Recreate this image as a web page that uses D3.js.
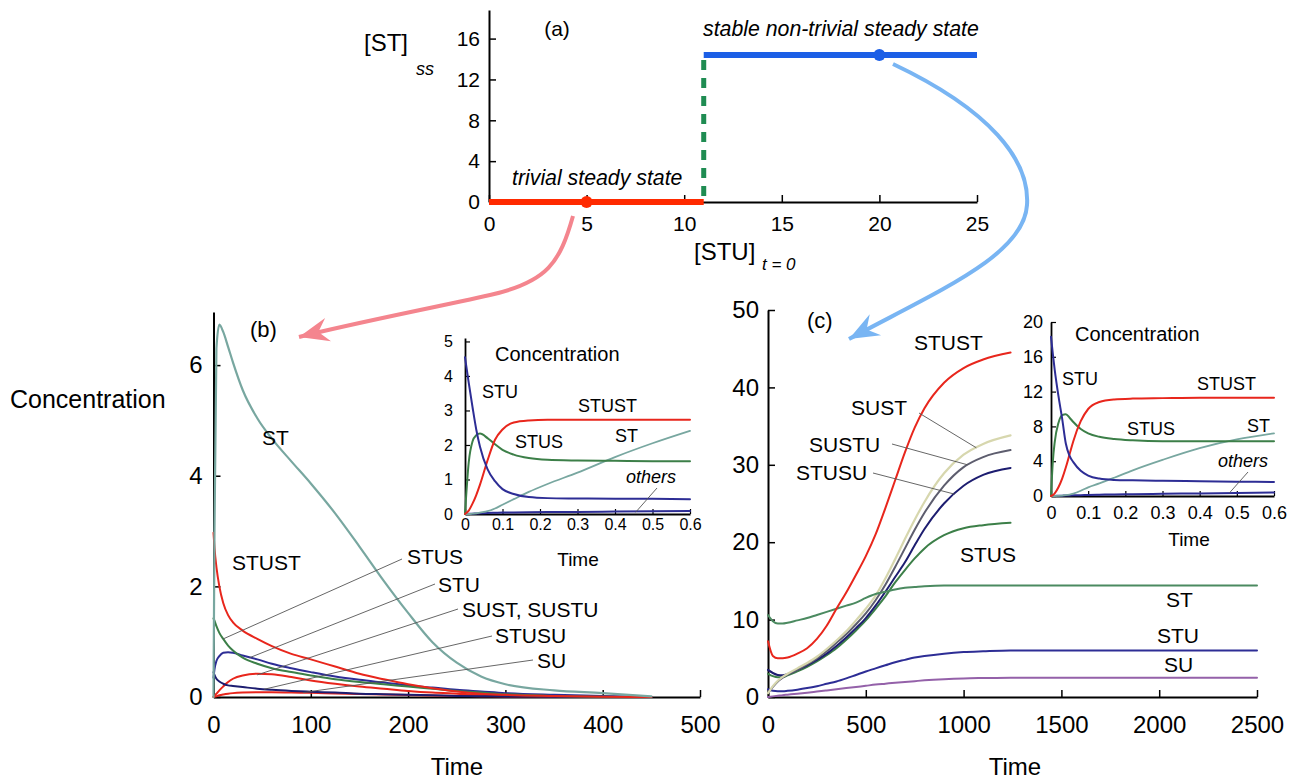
<!DOCTYPE html>
<html><head><meta charset="utf-8">
<script src="https://cdn.jsdelivr.net/npm/d3@7"></script>
<style>
body{margin:0;background:#fff;}
svg{font-family:"Liberation Sans",Arial,Helvetica,sans-serif;}
</style></head><body>
<script>
// ================= DATA =================
// Panel (a): steady-state [ST] versus initial [STU]
const aXTicks = [0, 5, 10, 15, 20, 25];
const aYTicks = [0, 4, 8, 12, 16];
const aThreshold = 11;
const aTrivialX = [0, 11];
const aTrivialY = [0, 0];
const aStableX = [11, 25];
const aStableY = [14.4, 14.4];
const aMarkX = [5, 20];
const aMarkY = [0, 14.4];

// Panel (b): [STU]t=0 = 5
const bXTicks = [0, 100, 200, 300, 400, 500];
const bYTicks = [0, 2, 4, 6];
const bTime   = [0, 1, 3, 6, 10, 15, 20, 30, 45, 60, 80, 100, 125, 150, 175, 200, 225, 250, 275, 300, 350, 400, 450];
const bST     = [0, 3.0, 6.3, 6.73, 6.6, 6.33, 6.05, 5.55, 5.04, 4.67, 4.26, 3.86, 3.32, 2.72, 2.1, 1.52, 0.99, 0.62, 0.37, 0.23, 0.12, 0.07, 0.01];
const bSTUST  = [2.97, 2.7, 2.35, 2.0, 1.7, 1.48, 1.35, 1.2, 1.05, 0.92, 0.78, 0.68, 0.55, 0.42, 0.32, 0.23, 0.16, 0.1, 0.06, 0.04, 0.02, 0.005, 0];
const bSTUS   = [1.42, 1.38, 1.28, 1.16, 1.05, 0.93, 0.84, 0.71, 0.6, 0.52, 0.45, 0.39, 0.32, 0.27, 0.23, 0.19, 0.15, 0.11, 0.08, 0.05, 0.02, 0.005, 0];
const bSTU    = [0.35, 0.5, 0.65, 0.74, 0.8, 0.81, 0.8, 0.75, 0.68, 0.6, 0.52, 0.45, 0.37, 0.31, 0.26, 0.21, 0.17, 0.13, 0.1, 0.07, 0.04, 0.02, 0];
const bSTUSU  = [0.45, 0.4, 0.33, 0.28, 0.24, 0.21, 0.2, 0.18, 0.15, 0.13, 0.11, 0.095, 0.08, 0.06, 0.05, 0.04, 0.03, 0.02, 0.015, 0.01, 0.005, 0, 0];
const bSUST   = [0, 0.02, 0.06, 0.12, 0.19, 0.27, 0.33, 0.39, 0.42, 0.41, 0.36, 0.3, 0.24, 0.19, 0.15, 0.11, 0.08, 0.06, 0.04, 0.03, 0.01, 0, 0];
const bSU     = [0, 0.005, 0.015, 0.03, 0.045, 0.06, 0.07, 0.08, 0.085, 0.085, 0.08, 0.075, 0.065, 0.055, 0.045, 0.035, 0.025, 0.02, 0.015, 0.01, 0.005, 0, 0];

// Inset of (b)
const bInXTicks = [0, 0.1, 0.2, 0.3, 0.4, 0.5, 0.6];
const bInYTicks = [0, 1, 2, 3, 4, 5];
const bInTime   = [0, 0.01, 0.02, 0.03, 0.04, 0.06, 0.08, 0.1, 0.13, 0.17, 0.22, 0.3, 0.4, 0.5, 0.6];
const bInSTU    = [4.54, 3.8, 3.1, 2.45, 1.95, 1.3, 0.95, 0.72, 0.58, 0.49, 0.46, 0.45, 0.44, 0.44, 0.43];
const bInSTUST  = [0, 0.1, 0.3, 0.55, 0.85, 1.55, 2.15, 2.45, 2.65, 2.71, 2.73, 2.73, 2.73, 2.73, 2.73];
const bInSTUS   = [0, 1.5, 2.1, 2.28, 2.33, 2.2, 2.02, 1.86, 1.72, 1.62, 1.57, 1.55, 1.54, 1.53, 1.53];
const bInST     = [0, 0, 0.01, 0.02, 0.04, 0.08, 0.16, 0.27, 0.43, 0.64, 0.87, 1.2, 1.65, 2.05, 2.41];
const bInOthers = [0, 0.005, 0.01, 0.015, 0.02, 0.03, 0.035, 0.04, 0.045, 0.05, 0.055, 0.06, 0.07, 0.08, 0.09];

// Panel (c): [STU]t=0 = 20
const cXTicks = [0, 500, 1000, 1500, 2000, 2500];
const cYTicks = [0, 10, 20, 30, 40, 50];
const cTime   = [0, 25, 50, 75, 100, 150, 200, 250, 300, 350, 400, 450, 500, 550, 600, 650, 700, 750, 800, 900, 1000, 1100, 1240, 1400, 1600, 1800, 2000, 2200, 2500];
const cSTUST  = [7.2, 5.3, 5.0, 5.0, 5.1, 5.6, 6.3, 7.5, 9.2, 11.4, 13.5, 15.8, 18.2, 21.0, 24.4, 28.0, 31.6, 34.8, 37.3, 40.6, 42.5, 43.6, 44.5];
const cSUST   = [0.5, 1.4, 2.1, 2.6, 3.0, 3.7, 4.4, 5.2, 6.2, 7.3, 8.5, 9.9, 11.4, 13.1, 15.3, 17.8, 20.4, 22.9, 25.2, 28.9, 31.3, 32.7, 33.8];
const cSUSTU  = [0.5, 1.3, 2.0, 2.5, 2.9, 3.5, 4.2, 5.0, 5.9, 7.0, 8.1, 9.4, 10.8, 12.5, 14.5, 16.8, 19.2, 21.6, 23.8, 27.3, 29.7, 31.0, 31.9];
const cSTUSU  = [3.5, 3.1, 2.85, 2.8, 2.95, 3.5, 4.1, 4.8, 5.6, 6.6, 7.7, 8.9, 10.2, 11.8, 13.6, 15.5, 17.4, 19.6, 21.7, 25.0, 27.3, 28.7, 29.6];
const cSTUS   = [3.0, 2.7, 2.55, 2.55, 2.8, 3.3, 3.9, 4.6, 5.4, 6.3, 7.4, 8.6, 9.9, 11.4, 13.0, 14.8, 16.4, 17.9, 19.2, 20.9, 21.8, 22.2, 22.5];
const cST     = [10.6, 9.8, 9.5, 9.5, 9.6, 9.9, 10.2, 10.6, 11.0, 11.4, 11.8, 12.2, 12.8, 13.3, 13.6, 13.9, 14.1, 14.2, 14.3, 14.4, 14.4, 14.4, 14.4, 14.4, 14.4, 14.4, 14.4, 14.4, 14.4];
const cSTU    = [1.0, 0.8, 0.75, 0.75, 0.8, 0.95, 1.15, 1.4, 1.7, 2.0, 2.4, 2.85, 3.3, 3.7, 4.1, 4.5, 4.8, 5.1, 5.3, 5.6, 5.8, 5.9, 6.0, 6.0, 6.0, 6.0, 6.0, 6.0, 6.0];
const cSU     = [0, 0.08, 0.16, 0.24, 0.3, 0.42, 0.55, 0.7, 0.85, 1.0, 1.15, 1.3, 1.45, 1.6, 1.72, 1.84, 1.95, 2.05, 2.15, 2.3, 2.4, 2.45, 2.5, 2.5, 2.5, 2.5, 2.5, 2.5, 2.5];

// Inset of (c)
const cInXTicks = [0, 0.1, 0.2, 0.3, 0.4, 0.5, 0.6];
const cInYTicks = [0, 4, 8, 12, 16, 20];
const cInTime   = [0, 0.005, 0.01, 0.02, 0.03, 0.04, 0.05, 0.06, 0.08, 0.1, 0.13, 0.17, 0.22, 0.3, 0.4, 0.5, 0.6];
const cInSTU    = [18.3, 16.3, 14.5, 11.5, 8.9, 6.0, 4.6, 3.9, 2.9, 2.35, 2.0, 1.85, 1.8, 1.75, 1.7, 1.65, 1.6];
const cInSTUST  = [0, 0.1, 0.3, 1.0, 2.0, 3.3, 4.8, 6.3, 8.6, 10.0, 10.8, 11.1, 11.2, 11.25, 11.3, 11.3, 11.3];
const cInSTUS   = [0, 4.0, 6.2, 8.4, 9.3, 9.4, 9.0, 8.5, 7.7, 7.2, 6.8, 6.55, 6.4, 6.3, 6.3, 6.3, 6.3];
const cInST     = [0, 0, 0, 0.02, 0.05, 0.1, 0.17, 0.28, 0.6, 1.0, 1.45, 2.1, 2.95, 4.15, 5.5, 6.5, 7.2];
const cInOthers = [0, 0, 0.01, 0.02, 0.04, 0.06, 0.07, 0.08, 0.1, 0.12, 0.15, 0.18, 0.21, 0.25, 0.3, 0.35, 0.4];

// ================= STYLE =================
const FONT = '"Liberation Sans", Arial, Helvetica, sans-serif';
const COL = {
  red: '#e8261c', green: '#3c7f48', teal: '#78a7a0', navy: '#2d2d95', navyDark: '#1d1d70',
  khaki: '#d7d7ae', gray: '#5d5d6e', purple: '#9461a9', stGreen: '#4b8a60',
  aRed: '#ff2a00', aBlue: '#1c5fe6', aGreen: '#1f8c52', pink: '#f4858e', lightBlue: '#79b5f3'
};

const svg = d3.select('body').append('svg').attr('width', 1302).attr('height', 780)
  .style('font-family', FONT);
svg.append('rect').attr('width', 1302).attr('height', 780).attr('fill', '#fff');
const defs = svg.append('defs');

function marker(id, color) {
  defs.append('marker').attr('id', id).attr('viewBox', '-32 -14 34 28')
    .attr('refX', 0).attr('refY', 0).attr('markerWidth', 34).attr('markerHeight', 28)
    .attr('markerUnits', 'userSpaceOnUse').attr('orient', 'auto')
    .append('path').attr('d', 'M0,0 L-30,-12 L-20,0 L-30,12 Z').attr('fill', color);
}
marker('ahPink', COL.pink);
marker('ahBlue', COL.lightBlue);

function drawAxes(g, x, y, o) {
  const xa = d3.axisBottom(x).tickValues(o.xTicks).tickFormat(d3.format('~g'))
    .tickSizeInner(-o.tick).tickSizeOuter(0).tickPadding(o.xPad);
  const ya = d3.axisLeft(y).tickValues(o.yTicks).tickFormat(d3.format('~g'))
    .tickSizeInner(-o.tick).tickSizeOuter(0).tickPadding(o.yPad);
  const gx = g.append('g').attr('transform', `translate(0,${y.range()[0]})`).call(xa);
  const gy = g.append('g').attr('transform', `translate(${x.range()[0]},0)`).call(ya);
  [gx, gy].forEach(a => {
    a.attr('font-family', null).attr('font-size', null);
    a.select('.domain').attr('stroke', '#000').attr('stroke-width', o.lw);
    a.selectAll('.tick line').attr('stroke', '#000').attr('stroke-width', o.tw);
    a.selectAll('.tick text').attr('fill', '#000')
      .style('font-size', o.fs + 'px').style('font-family', FONT);
  });
}

function series(g, x, y, times, vals, color, w) {
  const pts = vals.map((v, i) => [times[i], v]);
  g.append('path').datum(pts).attr('fill', 'none').attr('stroke', color)
    .attr('stroke-width', w).attr('stroke-linejoin', 'round').attr('stroke-linecap', 'round')
    .attr('d', d3.line().x(d => x(d[0])).y(d => y(d[1])).curve(d3.curveMonotoneX));
}

function text(g, x, y, s, fs, o = {}) {
  return g.append('text').attr('x', x).attr('y', y).text(s)
    .attr('font-size', fs).attr('fill', o.fill || '#000')
    .attr('font-style', o.italic ? 'italic' : null)
    .attr('text-anchor', o.anchor || 'start');
}

function leader(g, x1, y1, x2, y2) {
  g.append('line').attr('x1', x1).attr('y1', y1).attr('x2', x2).attr('y2', y2)
    .attr('stroke', '#555').attr('stroke-width', 0.9);
}

// ================= PANEL (a) =================
const gA = svg.append('g');
const xA = d3.scaleLinear().domain([0, 25]).range([489, 977]);
const yA = d3.scaleLinear().domain([0, 18.8]).range([202, 10]);
drawAxes(gA, xA, yA, { xTicks: aXTicks, yTicks: aYTicks, tick: 7, xPad: 14, yPad: 9, lw: 2, tw: 1.5, fs: 21 });
const lineA = d3.line().x((d) => xA(d[0])).y(d => yA(d[1]));
gA.append('path').datum(aTrivialX.map((v, i) => [v, aTrivialY[i]]))
  .attr('d', lineA).attr('stroke', COL.aRed).attr('stroke-width', 6).attr('fill', 'none');
gA.append('line').attr('x1', xA(aThreshold)).attr('x2', xA(aThreshold))
  .attr('y1', yA(0) - 6).attr('y2', yA(aStableY[0]))
  .attr('stroke', COL.aGreen).attr('stroke-width', 5).attr('stroke-dasharray', '10,8');
gA.append('path').datum(aStableX.map((v, i) => [v, aStableY[i]]))
  .attr('d', lineA).attr('stroke', COL.aBlue).attr('stroke-width', 6).attr('fill', 'none');
gA.selectAll('circle.mk').data(aMarkX.map((v, i) => [v, aMarkY[i]])).join('circle')
  .attr('cx', d => xA(d[0])).attr('cy', d => yA(d[1])).attr('r', 6)
  .attr('fill', (d, i) => i === 0 ? COL.aRed : COL.aBlue);
text(gA, 557, 36, '(a)', 21, { anchor: 'middle' });
text(gA, 512, 185, 'trivial steady state', 21.3, { italic: true });
text(gA, 703, 36, 'stable non-trivial steady state', 21.3, { italic: true });
text(gA, 364, 51, '[ST]', 24);
text(gA, 416, 75, 'ss', 18, { italic: true });
text(gA, 694, 260, '[STU]', 24);
text(gA, 762, 270, 't = 0', 17, { italic: true });

// arrows
svg.append('path').attr('d', 'M573,216 C560,262 548,282 490,295 S350,324 299,337')
  .attr('fill', 'none').attr('stroke', COL.pink).attr('stroke-width', 4)
  .attr('marker-end', 'url(#ahPink)');
svg.append('path').attr('d', 'M893,64 C990,110 1030,160 1027,205 C1024,255 940,290 849,339')
  .attr('fill', 'none').attr('stroke', COL.lightBlue).attr('stroke-width', 4)
  .attr('marker-end', 'url(#ahBlue)');

// ================= PANEL (b) =================
const gB = svg.append('g');
const xB = d3.scaleLinear().domain([0, 500]).range([213.5, 700]);
const yB = d3.scaleLinear().domain([0, 6.96]).range([697, 312]);
drawAxes(gB, xB, yB, { xTicks: bXTicks, yTicks: bYTicks, tick: 7, xPad: 19, yPad: 11, lw: 2, tw: 1.5, fs: 24 });
series(gB, xB, yB, bTime, bSU, COL.red, 2);
series(gB, xB, yB, bTime, bSUST, COL.red, 2);
series(gB, xB, yB, bTime, bSTUSU, COL.navyDark, 2);
series(gB, xB, yB, bTime, bSTU, COL.navy, 2);
series(gB, xB, yB, bTime, bSTUS, COL.green, 2);
series(gB, xB, yB, bTime, bSTUST, COL.red, 2);
series(gB, xB, yB, bTime, bST, COL.teal, 2.2);
text(gB, 250, 337, '(b)', 22);
text(gB, 262, 445, 'ST', 21);
text(gB, 232, 570, 'STUST', 21);
text(gB, 407, 564, 'STUS', 21);
text(gB, 438, 592, 'STU', 21);
text(gB, 462, 617, 'SUST, SUSTU', 21);
text(gB, 495, 643, 'STUSU', 21);
text(gB, 537, 668, 'SU', 21);
leader(gB, 402, 559, xB(10), yB(1.05));
leader(gB, 435, 584, xB(37), yB(0.71));
leader(gB, 458, 609, xB(45), yB(0.4));
leader(gB, 492, 636, xB(52), yB(0.14));
leader(gB, 533, 660, xB(92), yB(0.08));
text(svg, 10, 408, 'Concentration', 25);
text(gB, 457, 775, 'Time', 24, { anchor: 'middle' });

// inset (b)
const gBi = svg.append('g');
const xBi = d3.scaleLinear().domain([0, 0.6]).range([465, 690]);
const yBi = d3.scaleLinear().domain([0, 5.1]).range([514, 338]);
drawAxes(gBi, xBi, yBi, { xTicks: bInXTicks, yTicks: bInYTicks, tick: 5, xPad: 5, yPad: 12, lw: 1.8, tw: 1.2, fs: 16 });
series(gBi, xBi, yBi, bInTime, bInOthers, COL.navy, 2);
series(gBi, xBi, yBi, bInTime, bInST, COL.teal, 1.8);
series(gBi, xBi, yBi, bInTime, bInSTUS, COL.green, 2);
series(gBi, xBi, yBi, bInTime, bInSTUST, COL.red, 2);
series(gBi, xBi, yBi, bInTime, bInSTU, COL.navy, 2);
text(gBi, 495, 361, 'Concentration', 20);
text(gBi, 482, 398, 'STU', 18);
text(gBi, 578, 412, 'STUST', 18);
text(gBi, 515, 448, 'STUS', 18);
text(gBi, 615, 442, 'ST', 18);
text(gBi, 626, 483, 'others', 18, { italic: true });
leader(gBi, 657, 488, xBi(0.455), yBi(0.05));
text(gBi, 578, 566, 'Time', 19, { anchor: 'middle' });

// ================= PANEL (c) =================
const gC = svg.append('g');
const xC = d3.scaleLinear().domain([0, 2500]).range([768, 1257]);
const yC = d3.scaleLinear().domain([0, 50]).range([697, 310]);
drawAxes(gC, xC, yC, { xTicks: cXTicks, yTicks: cYTicks, tick: 7, xPad: 19, yPad: 9, lw: 2, tw: 1.5, fs: 24 });
series(gC, xC, yC, cTime, cSU, COL.purple, 2);
series(gC, xC, yC, cTime, cSTU, COL.navy, 2);
series(gC, xC, yC, cTime, cSTUS, COL.green, 2);
series(gC, xC, yC, cTime, cSTUSU, COL.navyDark, 2);
series(gC, xC, yC, cTime, cSUSTU, COL.gray, 2);
series(gC, xC, yC, cTime, cSUST, COL.khaki, 2.2);
series(gC, xC, yC, cTime, cST, COL.stGreen, 2);
series(gC, xC, yC, cTime, cSTUST, COL.red, 2);
text(gC, 807, 328, '(c)', 22);
text(gC, 914, 350, 'STUST', 21);
text(gC, 851, 415, 'SUST', 21);
text(gC, 809, 452, 'SUSTU', 21);
text(gC, 796, 480, 'STUSU', 21);
text(gC, 960, 562, 'STUS', 21);
text(gC, 1166, 607, 'ST', 21);
text(gC, 1157, 643, 'STU', 21);
text(gC, 1164, 672, 'SU', 21);
leader(gC, 919, 413, xC(1065), yC(32.2));
leader(gC, 892, 444, xC(1020), yC(30.0));
leader(gC, 873, 473, xC(955), yC(26.2));
text(gC, 1015, 775, 'Time', 24, { anchor: 'middle' });

// inset (c)
const gCi = svg.append('g');
const xCi = d3.scaleLinear().domain([0, 0.6]).range([1051, 1274]);
const yCi = d3.scaleLinear().domain([0, 20]).range([496, 322]);
drawAxes(gCi, xCi, yCi, { xTicks: cInXTicks, yTicks: cInYTicks, tick: 5, xPad: 10, yPad: 8, lw: 1.8, tw: 1.2, fs: 18 });
series(gCi, xCi, yCi, cInTime, cInOthers, COL.navy, 2);
series(gCi, xCi, yCi, cInTime, cInST, COL.teal, 1.8);
series(gCi, xCi, yCi, cInTime, cInSTUS, COL.green, 2);
series(gCi, xCi, yCi, cInTime, cInSTUST, COL.red, 2);
series(gCi, xCi, yCi, cInTime, cInSTU, COL.navy, 2);
text(gCi, 1075, 341, 'Concentration', 20);
text(gCi, 1062, 385, 'STU', 18);
text(gCi, 1197, 390, 'STUST', 18);
text(gCi, 1127, 435, 'STUS', 18);
text(gCi, 1247, 432, 'ST', 18);
text(gCi, 1218, 467, 'others', 18, { italic: true });
leader(gCi, 1248, 472, xCi(0.48), yCi(0.35));
text(gCi, 1189, 546, 'Time', 19, { anchor: 'middle' });
</script>
</body></html>
